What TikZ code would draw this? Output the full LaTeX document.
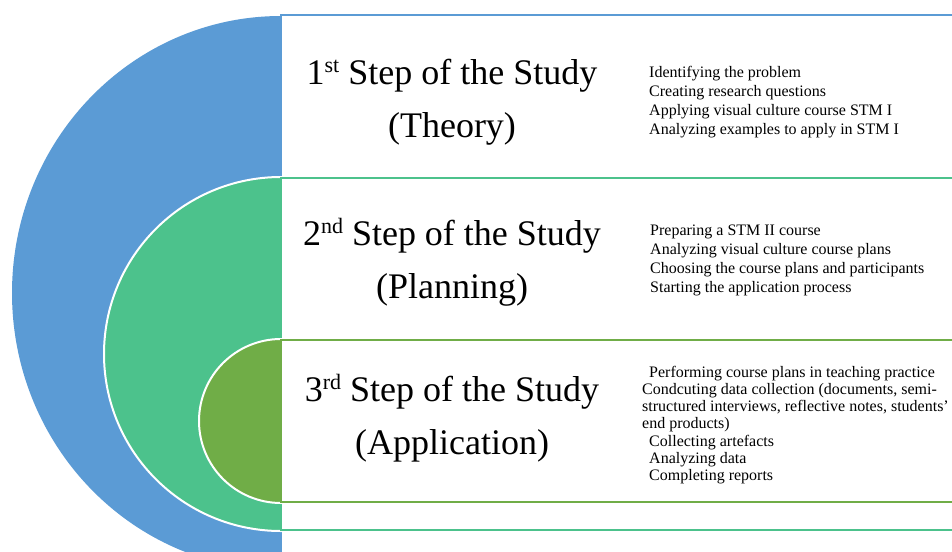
\documentclass[tikz,border=0pt]{standalone}
\usepackage{fontspec}
\setmainfont{Liberation Serif}
\usetikzlibrary{positioning}
\definecolor{stepblue}{HTML}{5B9BD5}
\definecolor{stepgreen}{HTML}{4CC28C}
\definecolor{stepolive}{HTML}{70AD47}
\newcommand{\stepord}[2]{#1\raisebox{12pt}{\fontsize{22}{22}\selectfont #2}}

\begin{document}
\begin{tikzpicture}[x=1pt,y=-1pt,
    ring/.style={draw=white, line width=2pt},
    panel/.style={fill=white, line width=2pt},
    heading/.style={font=\fontsize{36}{44}\selectfont, anchor=base, inner sep=0pt},
    item/.style={font=\fontsize{16}{19}\selectfont, anchor=base west, inner sep=0pt}
    ]
    \useasboundingbox (0,0) rectangle (952,551);
    \clip (0,0) rectangle (952,551);

    % nested rings, each one covered on the right by its panel
    \fill[stepblue] (281,293) ellipse [x radius=269, y radius=277];
    \draw[panel, draw=stepblue] (281,15) rectangle (980,575);
    \draw[ring, fill=stepgreen] (281,354) circle [radius=177];
    \draw[panel, draw=stepgreen] (281,178) rectangle (980,530);
    \draw[ring, fill=stepolive] (281,421) circle [radius=82];
    \draw[panel, draw=stepolive] (281,340) rectangle (980,502);

    % headings
    \foreach \ord/\what/\y [count=\i] in {{\stepord{1}{st}}/Theory/84,{\stepord{2}{nd}}/Planning/245,{\stepord{3}{rd}}/Application/401} {
        \node[heading] (step\i) at (452,\y) {\ord{} Step of the Study};
        \node[heading] (phase\i) at (452,\y+53) {(\what)};
    }

    % what is done in each step
    \def\theory{Identifying the problem,Creating research questions,Applying visual culture course STM I,Analyzing examples to apply in STM I}
    \def\planning{Preparing a STM II course,Analyzing visual culture course plans,Choosing the course plans and participants,Starting the application process}
    \foreach \t [count=\i from 0] in \theory
        \node[item] (theory\i) at (649,77.5+19*\i) {\t};
    \foreach \t [count=\i from 0] in \planning
        \node[item] (planning\i) at (650,235+19*\i) {\t};
    \foreach \dx/\t [count=\i from 0] in {649/Performing course plans in teaching practice,642/{Condcuting data collection (documents, semi-},642/{structured interviews, reflective notes, students’},642/end products),649/Collecting artefacts,649/Analyzing data,649/Completing reports}
        \node[item] (application\i) at (\dx,377+17.3*\i) {\t};
\end{tikzpicture}
\end{document}
